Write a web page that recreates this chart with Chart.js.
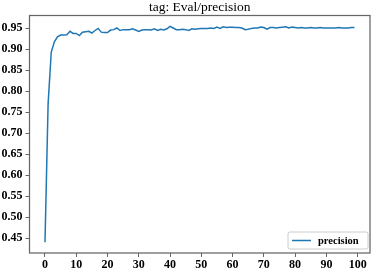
<!DOCTYPE html>
<html>
<head>
<meta charset="utf-8">
<script src="https://cdn.jsdelivr.net/npm/chart.js@4/dist/chart.umd.min.js"></script>
<style>
html,body{margin:0;padding:0;background:#fff;}
#wrap{width:372px;height:269px;}
</style>
</head>
<body>
<div id="wrap"><canvas id="c" width="372" height="269"></canvas></div>
<script>
const titleText = "tag: Eval/precision";
const seriesLabel = "precision";
const steps = [];
for (let i = 0; i < 100; i++) steps.push(i);
const precision = [
 0.440, 0.770, 0.893, 0.918, 0.930, 0.934, 0.934, 0.935, 0.943, 0.938,
 0.938, 0.933, 0.941, 0.942, 0.943, 0.939, 0.945, 0.950, 0.941, 0.940,
 0.940, 0.946, 0.947, 0.951, 0.945, 0.947, 0.947, 0.947, 0.949, 0.946,
 0.943, 0.946, 0.947, 0.947, 0.946, 0.949, 0.945, 0.948, 0.946, 0.949,
 0.955, 0.951, 0.947, 0.947, 0.948, 0.947, 0.945, 0.949, 0.948, 0.949,
 0.950, 0.950, 0.950, 0.951, 0.950, 0.953, 0.950, 0.954, 0.952, 0.953,
 0.953, 0.952, 0.952, 0.951, 0.947, 0.948, 0.950, 0.951, 0.951, 0.953,
 0.952, 0.948, 0.952, 0.952, 0.951, 0.952, 0.953, 0.954, 0.951, 0.953,
 0.952, 0.951, 0.952, 0.951, 0.951, 0.952, 0.951, 0.951, 0.952, 0.951,
 0.951, 0.951, 0.951, 0.951, 0.952, 0.951, 0.951, 0.951, 0.952, 0.952
];
const xTicks = [0, 10, 20, 30, 40, 50, 60, 70, 80, 90, 100];
const yTicks = [0.45, 0.50, 0.55, 0.60, 0.65, 0.70, 0.75, 0.80, 0.85, 0.90, 0.95];

const lineColor = '#1f77b4';
const frameColor = '#666666';
const serif = "'Liberation Serif','DejaVu Serif',serif";

const points = steps.map((s, i) => ({x: s, y: precision[i]}));
const xMin = Math.min(...steps), xMax = Math.max(...steps);
const yMin = Math.min(...precision), yMax = Math.max(...precision);
const xm = (xMax - xMin) * 0.05, ym = (yMax - yMin) * 0.05;

const framePlugin = {
  id: 'frame',
  afterDraw(chart) {
    const {ctx, chartArea: a} = chart;
    ctx.save();
    ctx.strokeStyle = frameColor;
    ctx.lineWidth = 1.25;
    ctx.strokeRect(a.left, a.top, a.right - a.left, a.bottom - a.top);
    // title
    ctx.fillStyle = '#000';
    ctx.font = "13.5px " + serif;
    ctx.textAlign = 'center';
    ctx.textBaseline = 'middle';
    ctx.fillText(titleText, (a.left + a.right) / 2, 7.5);
    // legend
    const bx = a.right - 82, by = a.bottom - 21, bw = 80, bh = 17;
    ctx.fillStyle = 'rgba(255,255,255,0.8)';
    ctx.strokeStyle = '#cccccc';
    ctx.lineWidth = 1;
    ctx.beginPath();
    if (ctx.roundRect) ctx.roundRect(bx, by, bw, bh, 2); else ctx.rect(bx, by, bw, bh);
    ctx.fill();
    ctx.stroke();
    ctx.strokeStyle = lineColor;
    ctx.lineWidth = 1.5;
    ctx.beginPath();
    ctx.moveTo(bx + 4, by + bh / 2);
    ctx.lineTo(bx + 23, by + bh / 2);
    ctx.stroke();
    ctx.fillStyle = '#000';
    ctx.font = "bold 10.5px " + serif;
    ctx.textAlign = 'left';
    ctx.fillText(chart.data.datasets[0].label, bx + 30, by + bh / 2 + 0.5);
    ctx.restore();
  }
};

new Chart(document.getElementById('c'), {
  type: 'line',
  data: {
    datasets: [{
      label: seriesLabel,
      data: points,
      borderColor: lineColor,
      borderWidth: 1.5,
      pointRadius: 0,
      tension: 0,
      fill: false
    }]
  },
  options: {
    responsive: false,
    animation: false,
    devicePixelRatio: 1,
    layout: {padding: {left: 0, top: 15.5, right: 2, bottom: 0}},
    plugins: {legend: {display: false}, title: {display: false}, tooltip: {enabled: false}},
    scales: {
      x: {
        type: 'linear',
        min: xMin - xm,
        max: xMax + xm,
        afterBuildTicks(scale) { scale.ticks = xTicks.map(v => ({value: v})); },
        afterFit(scale) { scale.height = 16; },
        grid: {display: true, drawOnChartArea: false, drawTicks: true, tickLength: 4, color: frameColor, lineWidth: 1},
        border: {display: false},
        ticks: {
          color: '#000', font: {family: serif, size: 12, weight: 'bold'}, padding: 1,
          maxRotation: 0, autoSkip: false,
          callback: v => String(v)
        }
      },
      y: {
        type: 'linear',
        min: yMin - ym,
        max: yMax + ym,
        afterBuildTicks(scale) { scale.ticks = yTicks.map(v => ({value: v})); },
        afterFit(scale) { scale.width = 29.5; },
        grid: {display: true, drawOnChartArea: false, drawTicks: true, tickLength: 4, color: frameColor, lineWidth: 1},
        border: {display: false},
        ticks: {
          color: '#000', font: {family: serif, size: 12, weight: 'bold'}, padding: 3,
          autoSkip: false,
          callback: v => v.toFixed(2)
        }
      }
    }
  },
  plugins: [framePlugin]
});
</script>
</body>
</html>
